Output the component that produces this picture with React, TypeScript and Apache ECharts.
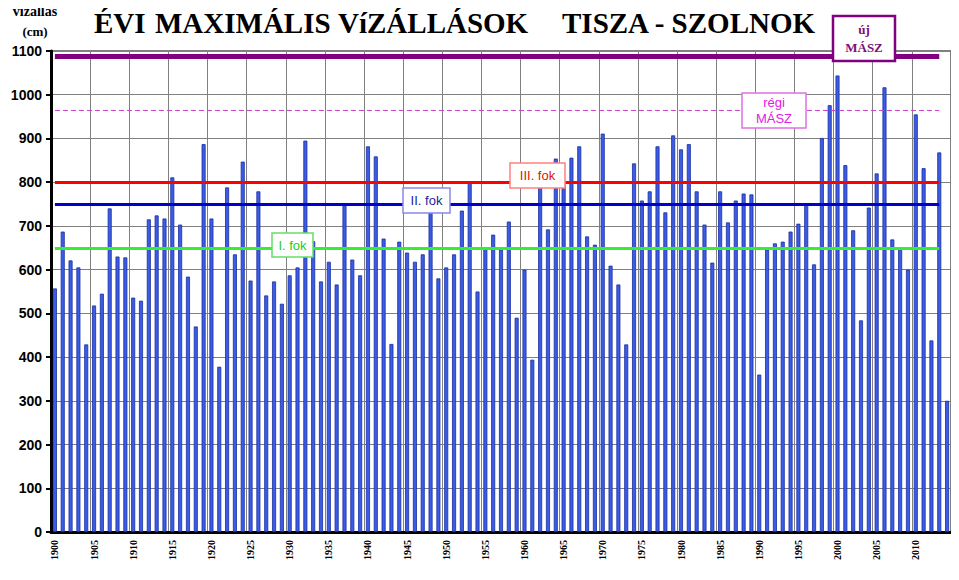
import React, { useEffect, useRef } from "react";
import * as echarts from "echarts";

const YEARS: string[] = [
  "1900","1901","1902","1903","1904","1905","1906","1907","1908","1909",
  "1910","1911","1912","1913","1914","1915","1916","1917","1918","1919",
  "1920","1921","1922","1923","1924","1925","1926","1927","1928","1929",
  "1930","1931","1932","1933","1934","1935","1936","1937","1938","1939",
  "1940","1941","1942","1943","1944","1945","1946","1947","1948","1949",
  "1950","1951","1952","1953","1954","1955","1956","1957","1958","1959",
  "1960","1961","1962","1963","1964","1965","1966","1967","1968","1969",
  "1970","1971","1972","1973","1974","1975","1976","1977","1978","1979",
  "1980","1981","1982","1983","1984","1985","1986","1987","1988","1989",
  "1990","1991","1992","1993","1994","1995","1996","1997","1998","1999",
  "2000","2001","2002","2003","2004","2005","2006","2007","2008","2009",
  "2010","2011","2012","2013","2014",
];

const MAX_LEVELS: number[] = [
  557, 687, 621, 605, 429, 518, 545, 740, 630, 628,
  536, 529, 715, 724, 717, 811, 703, 584, 470, 887,
  717, 378, 788, 635, 847, 575, 779, 541, 573, 522,
  587, 605, 895, 665, 573, 618, 566, 749, 623, 587,
  882, 859, 671, 430, 664, 639, 618, 635, 738, 580,
  605, 635, 735, 799, 550, 648, 680, 646, 710, 490,
  600, 394, 790, 692, 854, 795, 856, 882, 676, 657,
  911, 609, 566, 429, 843, 758, 779, 882, 731, 907,
  875, 887, 779, 703, 616, 779, 708, 758, 774, 772,
  360, 646, 660, 664, 687, 705, 749, 612, 901, 976,
  1044, 839, 690, 484, 742, 820, 1017, 669, 651, 600,
  955, 832, 438, 868, 300,
];

const Y_MIN = 0;
const Y_MAX = 1100;
const Y_STEP = 100;

const FOK_I = 650;
const FOK_II = 750;
const FOK_III = 800;
const REGI_MASZ = 964;
const UJ_MASZ = 1088;

const LINE_START = "1900";
const LINE_END = "2013";

const App: React.FC = () => {
  const ref = useRef<HTMLDivElement>(null);

  useEffect(() => {
    if (!ref.current) return;
    const chart = echarts.init(ref.current, undefined, { renderer: "svg" });

    const hLine = (value: number, lineStyle: any) => [
      { coord: [LINE_START, value], lineStyle },
      { coord: [LINE_END, value] },
    ];

    const box = (
      x: number, y: number, w: number, h: number,
      text: string, stroke: string, color: string, font: any, lw = 1.5
    ) => ({
      type: "group",
      x, y,
      children: [
        { type: "rect", z: 200, shape: { x: 0, y: 0, width: w, height: h },
          style: { fill: "#ffffff", stroke, lineWidth: lw } },
        { type: "text", z: 201, x: w / 2, y: h / 2,
          style: { text, fill: color, align: "center", verticalAlign: "middle", ...font } },
      ],
    });

    const sans = { fontFamily: "Liberation Sans, Arial, sans-serif", fontSize: 13 };
    const serifBold = { fontFamily: "Liberation Serif, Times New Roman, serif", fontWeight: "bold" };
    const titleStyle = {
      fill: "#000", fontSize: 29, ...serifBold, verticalAlign: "middle",
      textShadowColor: "#c9a227", textShadowOffsetX: 1, textShadowOffsetY: 1, textShadowBlur: 0,
    };

    chart.setOption({
      animation: false,
      backgroundColor: "#ffffff",
      grid: {
        left: 51, right: 8, top: 51, bottom: 48,
        show: true, borderColor: "#000", borderWidth: 1,
      },
      xAxis: {
        type: "category",
        data: YEARS,
        boundaryGap: true,
        axisLine: { lineStyle: { color: "#000", width: 3 } },
        axisTick: { interval: 4, length: 5, lineStyle: { color: "#000", width: 2 } },
        axisLabel: {
          interval: 4, rotate: 90, margin: 8, color: "#000",
          fontFamily: "Liberation Serif, Times New Roman, serif",
          fontWeight: "bold", fontSize: 10,
        },
        splitLine: { show: true, interval: 4, lineStyle: { color: "#808080", width: 1 } },
      },
      yAxis: {
        type: "value",
        min: Y_MIN, max: Y_MAX, interval: Y_STEP,
        axisLine: { show: true, lineStyle: { color: "#000", width: 3 } },
        axisTick: { show: true, length: 5, lineStyle: { color: "#000", width: 2 } },
        axisLabel: {
          color: "#000", margin: 9,
          formatter: (v: number) => String(v),
          fontFamily: "Liberation Sans, Arial, sans-serif",
          fontWeight: "bold", fontSize: 14,
        },
        splitLine: { show: true, lineStyle: { color: "#808080", width: 1 } },
      },
      series: [
        {
          type: "bar",
          data: MAX_LEVELS,
          barWidth: 4,
          itemStyle: { color: "#3a5ce6", borderColor: "#1b2f9e", borderWidth: 0.8 },
          markLine: {
            silent: true,
            symbol: ["none", "none"],
            label: { show: false },
            data: [
              hLine(UJ_MASZ, { color: "#800080", width: 5, type: "solid" }),
              hLine(REGI_MASZ, { color: "#cc44cc", width: 1, type: [5, 3] }),
              hLine(FOK_III, { color: "#ff0000", width: 3, type: "solid" }),
              hLine(FOK_II, { color: "#0000cc", width: 3, type: "solid" }),
              hLine(FOK_I, { color: "#33ee33", width: 3, type: "solid" }),
            ],
          },
        },
      ],
      graphic: [
        { type: "text", x: 94, y: 23, style: { text: "ÉVI", ...titleStyle } },
        { type: "text", x: 155, y: 23, style: { text: "MAXIMÁLIS", ...titleStyle } },
        { type: "text", x: 338, y: 23, style: { text: "VíZÁLLÁSOK", ...titleStyle } },
        { type: "text", x: 562, y: 23, style: { text: "TISZA - SZOLNOK", ...titleStyle } },
        { type: "text", x: 35, y: 11,
          style: { text: "vízállás", fill: "#000", fontSize: 14, ...serifBold, align: "center", verticalAlign: "middle" } },
        { type: "text", x: 35, y: 31,
          style: { text: "(cm)", fill: "#000", fontSize: 13, ...serifBold, align: "center", verticalAlign: "middle" } },
        box(272, 233, 41, 24, "I. fok", "#66dd66", "#22cc22", sans),
        box(403, 188, 47, 25, "II. fok", "#8888ee", "#1c1c9c", sans),
        box(510, 163, 55, 25, "III. fok", "#ff8080", "#dd1111", sans),
        box(742, 93, 64, 35, "régi\nMÁSZ", "#e070e0", "#e020e0", { ...sans, lineHeight: 16 }),
        box(833, 16, 62, 45, "új\nMÁSZ", "#800080", "#7a107a", { ...serifBold, fontSize: 13, lineHeight: 18 }, 2.5),
      ],
    });

    return () => chart.dispose();
  }, []);

  return <div ref={ref} style={{ width: 959, height: 580, margin: -8 }} />;
};

export default App;
